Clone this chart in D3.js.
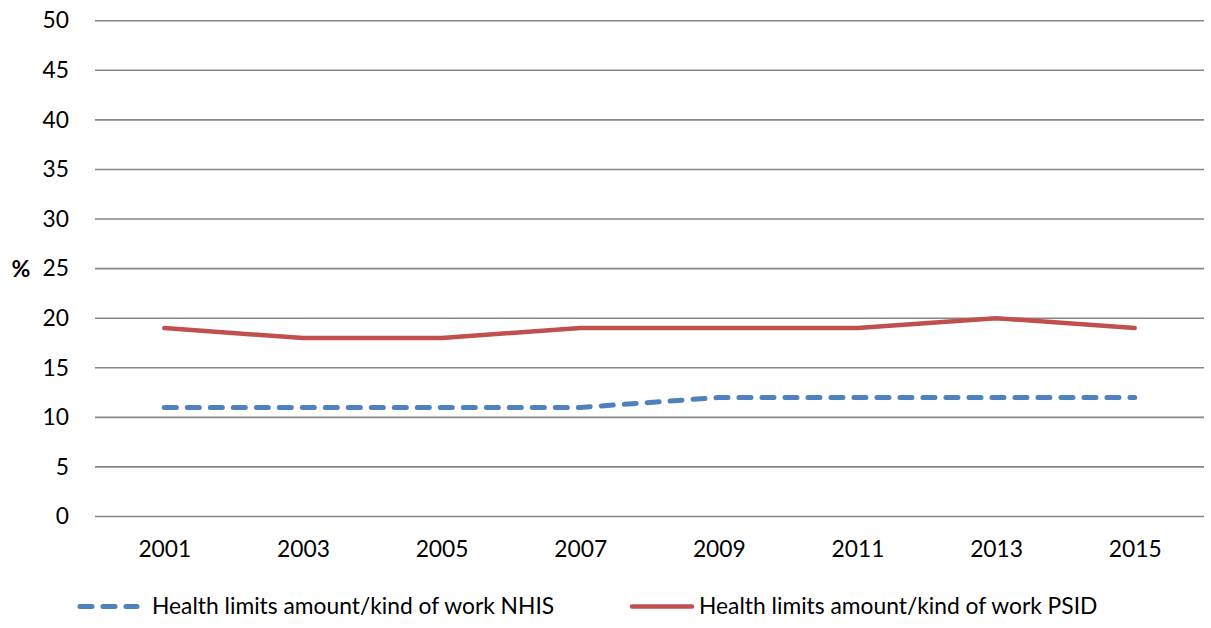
<!DOCTYPE html>
<html>
<head>
<meta charset="utf-8">
<script src="https://cdn.jsdelivr.net/npm/d3@7"></script>
<style>
  html, body { margin: 0; padding: 0; background: #fff; }
  svg { display: block; font-family: Lato, "Open Sans", sans-serif; }
</style>
</head>
<body>
<svg id="chart" width="1211" height="628"></svg>
<script>
// Survey years on the x axis
const years = ["2001", "2003", "2005", "2007", "2009", "2011", "2013", "2015"];
// Share (%) reporting that health limits the amount or kind of work
const nhisValues = [11, 11, 11, 11, 12, 12, 12, 12];
const psidValues = [19, 18, 18, 19, 19, 19, 20, 19];
const yTicks = [0, 5, 10, 15, 20, 25, 30, 35, 40, 45, 50];
const seriesNames = ["Health limits amount/kind of work NHIS", "Health limits amount/kind of work PSID"];

const svg = d3.select("#chart");
const plot = { left: 95, right: 1204, top: 20.7, bottom: 516.5 };
const fontSize = 22.8;

const x = d3.scalePoint().domain(years).range([plot.left, plot.right]).padding(0.5);
const y = d3.scaleLinear().domain([0, 50]).range([plot.bottom, plot.top]);

// Horizontal gridlines
svg.append("g")
  .selectAll("line")
  .data(yTicks)
  .join("line")
  .attr("x1", plot.left).attr("x2", plot.right)
  .attr("y1", d => y(d)).attr("y2", d => y(d))
  .attr("stroke", "#868686").attr("stroke-width", 1.6);

// Y axis labels
const yAxis = svg.append("g")
  .attr("transform", `translate(${plot.left},0)`)
  .call(d3.axisLeft(y).tickValues(yTicks).tickSize(0).tickPadding(26));
yAxis.select(".domain").remove();
yAxis.selectAll("text")
  .attr("font-family", "Lato, 'Open Sans', sans-serif")
  .attr("font-size", fontSize).attr("fill", "#000");

// X axis labels
const xAxis = svg.append("g")
  .attr("transform", `translate(0,${plot.bottom})`)
  .call(d3.axisBottom(x).tickSize(0).tickPadding(24));
xAxis.select(".domain").remove();
xAxis.selectAll("text")
  .attr("font-family", "Lato, 'Open Sans', sans-serif")
  .attr("font-size", fontSize).attr("fill", "#000");

// Unit label
svg.append("text")
  .attr("x", 21).attr("y", y(25))
  .attr("dy", "0.35em")
  .attr("text-anchor", "middle")
  .attr("font-weight", "bold")
  .attr("font-size", 23)
  .text("%");

const line = d3.line()
  .x((d, i) => x(years[i]))
  .y(d => y(d));

svg.append("path")
  .datum(psidValues)
  .attr("d", line)
  .attr("fill", "none")
  .attr("stroke", "#c0504d")
  .attr("stroke-width", 4.5)
  .attr("stroke-linecap", "round")
  .attr("stroke-linejoin", "round");

svg.append("path")
  .datum(nhisValues)
  .attr("d", line)
  .attr("fill", "none")
  .attr("stroke", "#4f81bd")
  .attr("stroke-width", 5)
  .attr("stroke-dasharray", "12 11")
  .attr("stroke-linecap", "round")
  .attr("stroke-linejoin", "round");

// Legend
const legendY = 606.5;
const legend = [
  { name: seriesNames[0], color: "#4f81bd", dash: "12 11", width: 5, x1: 80, x2: 137, tx: 152 },
  { name: seriesNames[1], color: "#c0504d", dash: null, width: 4.5, x1: 632, x2: 692, tx: 699 }
];
const lg = svg.append("g").selectAll("g").data(legend).join("g");
lg.append("line")
  .attr("x1", d => d.x1).attr("x2", d => d.x2)
  .attr("y1", legendY).attr("y2", legendY)
  .attr("stroke", d => d.color)
  .attr("stroke-width", d => d.width)
  .attr("stroke-dasharray", d => d.dash)
  .attr("stroke-linecap", "round");
lg.append("text")
  .attr("x", d => d.tx).attr("y", legendY)
  .attr("dy", "0.35em")
  .attr("font-size", fontSize)
  .attr("fill", "#000")
  .text(d => d.name);
</script>
</body>
</html>
